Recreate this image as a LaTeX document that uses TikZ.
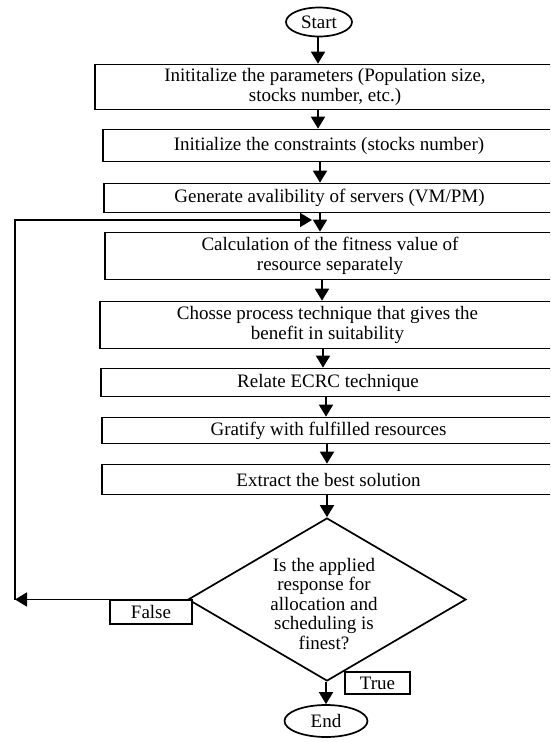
\documentclass[tikz,border=0pt]{standalone}
\usepackage{fontspec}
\setmainfont{Liberation Serif}
\usetikzlibrary{arrows.meta,positioning,shapes.geometric}

\begin{document}
\begin{tikzpicture}[x=1pt,y=-1pt,line width=1.7pt,
  font=\fontsize{19}{19.5}\selectfont,
  arr/.style={-{Triangle[length=12pt,width=14pt]}},
  stepbox/.style={draw,rectangle,inner sep=0pt,align=center},
  terminal/.style={draw,ellipse,inner sep=0pt},
  decision/.style={draw,diamond,inner sep=0pt,minimum width=278pt,minimum height=163pt},
  tag/.style={draw,fill=white,rectangle,inner sep=0pt}]
  \useasboundingbox (0,0) rectangle (550,742);
  \clip (0,0) rectangle (550,742);
  \node[terminal,minimum width=66pt,minimum height=29pt] (start) at (319,22) {Start};
  \node[stepbox,minimum width=460pt,minimum height=45pt] (b1) at (325,87)
  {Inititalize the parameters (Population size,\\stocks number, etc.)};
  \node[stepbox,minimum width=452pt,minimum height=32pt] (b2) at (329,145.5)
  {Initialize the constraints (stocks number)};
  \node[stepbox,minimum width=451pt,minimum height=29pt] (b3) at (329.5,198)
  {Generate avalibility of servers (VM/PM)};
  \node[stepbox,minimum width=450pt,minimum height=47pt] (b4) at (330,256)
  {Calculation of the fitness value of\\resource separately};
  \node[stepbox,minimum width=455pt,minimum height=47pt] (b5) at (327.5,325)
  {Chosse process technique that gives the\\benefit in suitability};
  \node[stepbox,minimum width=454pt,minimum height=28pt] (b6) at (328,382.5)
  {Relate ECRC technique};
  \node[stepbox,minimum width=453pt,minimum height=26pt] (b7) at (328.5,430.5)
  {Gratify with fulfilled resources};
  \node[stepbox,minimum width=453pt,minimum height=30pt] (b8) at (328.5,479.5)
  {Extract the best solution};
  \node[decision] (dec) at (327,599.5) {};
  \node[align=center,inner sep=0pt] (dectext) at (324,604)
  {Is the applied\\response for\\allocation and\\scheduling is\\finest?};
  \node[terminal,minimum width=83pt,minimum height=32pt] (end) at (326,721) {End};
  % 主干箭头, 每段的 x 位置略有不同
  \foreach \a/\b/\x in {start/b1/318, b1/b2/318, b2/b3/320, b3/b4/320, b4/b5/322,
    b5/b6/323, b6/b7/326, b7/b8/327, b8/dec/327, dec/end/326}
  \draw[arr] (\x,0 |- \a.south) -- (\x,0 |- \b.north);
  % 回路 (False)
  \coordinate (lc) at (15,0 |- dec.west);
  \coordinate (lt) at (15,220);
  \coordinate (lend) at (312,220);
  \draw[arr] (dec.west) -- (lc);
  \draw[arr] (lc) -- (lt) -- (lend);
  \node[tag,minimum width=82pt,minimum height=24pt] (false) at (151,612) {False};
  \node[tag,minimum width=65pt,minimum height=22pt] (true) at (377.5,683) {True};
\end{tikzpicture}
\end{document}
